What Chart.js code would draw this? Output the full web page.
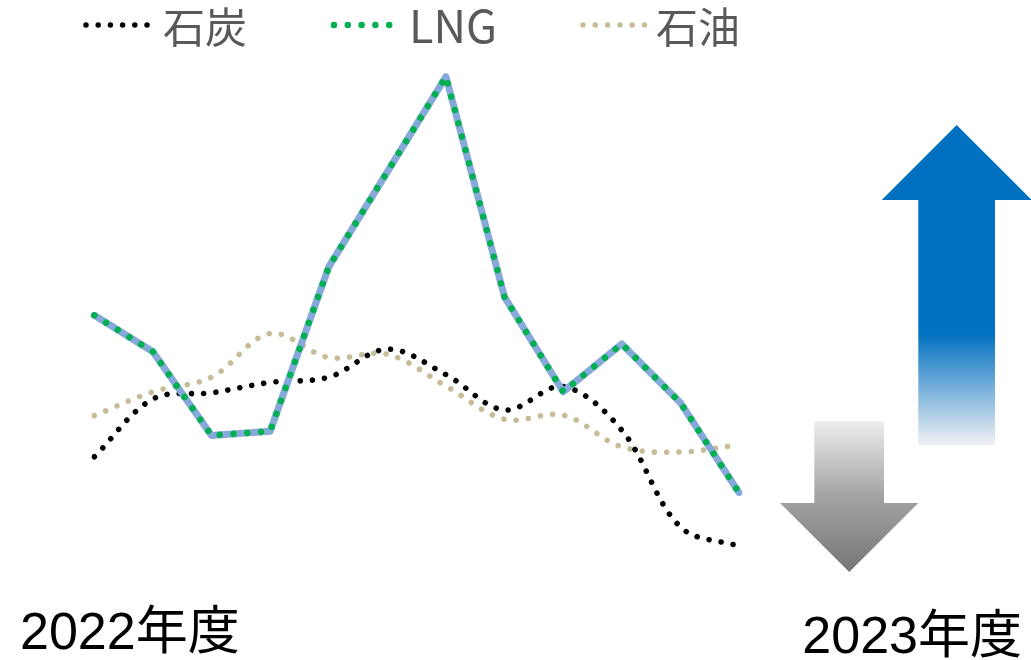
<!DOCTYPE html>
<html lang="ja">
<head>
<meta charset="utf-8">
<script src="https://cdn.jsdelivr.net/npm/chart.js@4.4.1/dist/chart.umd.min.js"></script>
<style>
  html, body { margin: 0; padding: 0; background: #fff; }
  #wrap { position: relative; width: 1031px; height: 660px; }
</style>
</head>
<body>
<div id="wrap"><canvas id="chart" width="1031" height="660"></canvas></div>
<script>
// 燃料価格の推移（指数）
const months = ['4月', '5月', '6月', '7月', '8月', '9月', '10月', '11月', '12月', '1月', '2月', '3月'];
const coal = [23.7, 34.8, 36.0, 38.0, 39.0, 44.4, 39.5, 32.7, 37.2, 28.8, 10.2, 6.5];
const lng  = [50.9, 43.9, 27.8, 28.6, 60.2, 78.5, 96.8, 54.4, 36.2, 45.4, 34.1, 16.8];
const oil  = [31.6, 36.2, 39.0, 47.4, 42.8, 43.4, 37.3, 30.9, 31.7, 25.6, 24.6, 26.0];
const seriesNames = ['石炭', 'LNG', '石油'];
const periodLabels = ['2022年度', '2023年度'];

// 凡例（点線サンプル＋ラベル）
const dotLegend = {
  id: 'dotLegend',
  afterDraw(chart) {
    const ctx = chart.ctx;
    const keys = chart.data.datasets.filter(ds => ds.inLegend);
    const startX = [86, 334, 583];
    const textX = [163, 409, 656];
    keys.forEach((ds, i) => {
      const gap = ds.borderDash[1];
      const n = Math.floor(62 / gap) + 1;
      ctx.save();
      ctx.strokeStyle = ds.borderColor;
      ctx.lineWidth = ds.legendDot;
      ctx.lineCap = 'round';
      ctx.setLineDash(ds.borderDash);
      ctx.beginPath();
      ctx.moveTo(startX[i], 25);
      ctx.lineTo(startX[i] + (n - 1) * gap + 0.01, 25);
      ctx.stroke();
      ctx.restore();

      ctx.save();
      const latin = /^[\x00-\x7F]+$/.test(ds.label);
      ctx.font = (latin ? 45 : 42) + 'px "Noto Sans CJK JP", sans-serif';
      ctx.fillStyle = '#595959';
      ctx.textBaseline = 'alphabetic';
      ctx.fillText(ds.label, textX[i], 42.5);
      ctx.restore();
    });
  }
};

// 右側の上下矢印と年度ラベル
const sideArrows = {
  id: 'sideArrows',
  afterDraw(chart) {
    const ctx = chart.ctx;

    // 上向き（青）
    ctx.save();
    let g = ctx.createLinearGradient(0, 125, 0, 445);
    g.addColorStop(0, '#0070C0');
    g.addColorStop(0.65, '#0070C0');
    g.addColorStop(1, '#F0F2F4');
    ctx.fillStyle = g;
    ctx.beginPath();
    ctx.moveTo(956.7, 125);
    ctx.lineTo(1031.7, 200);
    ctx.lineTo(995, 200);
    ctx.lineTo(995, 445);
    ctx.lineTo(918.3, 445);
    ctx.lineTo(918.3, 200);
    ctx.lineTo(881.7, 200);
    ctx.closePath();
    ctx.fill();
    ctx.restore();

    // 下向き（グレー）
    ctx.save();
    g = ctx.createLinearGradient(0, 421, 0, 572);
    g.addColorStop(0, '#EEEEEE');
    g.addColorStop(0.5, '#A3A3A3');
    g.addColorStop(1, '#767676');
    ctx.fillStyle = g;
    ctx.beginPath();
    ctx.moveTo(814.3, 421);
    ctx.lineTo(884, 421);
    ctx.lineTo(884, 503);
    ctx.lineTo(918.3, 503);
    ctx.lineTo(849.2, 572);
    ctx.lineTo(780, 503);
    ctx.lineTo(814.3, 503);
    ctx.closePath();
    ctx.fill();
    ctx.restore();

    ctx.save();
    ctx.font = '52px "Liberation Sans", "Noto Sans CJK JP", sans-serif';
    ctx.fillStyle = '#000';
    ctx.textBaseline = 'alphabetic';
    ctx.fillText(periodLabels[0], 20, 649);
    ctx.textAlign = 'right';
    ctx.fillText(periodLabels[1], 1022, 653);
    ctx.restore();
  }
};

new Chart(document.getElementById('chart'), {
  type: 'line',
  data: {
    labels: months,
    datasets: [
      {
        label: seriesNames[0],
        data: coal,
        inLegend: true,
        legendDot: 5.5,
        borderColor: '#000000',
        borderWidth: 5.6,
        borderDash: [0.001, 12.2],
        borderCapStyle: 'round',
        tension: 0.35,
        order: 2
      },
      {
        label: seriesNames[1],
        data: lng,
        inLegend: true,
        legendDot: 6.5,
        borderColor: '#00B050',
        borderWidth: 6.5,
        borderDash: [0.001, 13.8],
        borderCapStyle: 'round',
        tension: 0,
        order: 0
      },
      {
        label: '',
        data: lng,
        borderColor: '#85A9D8',
        borderWidth: 7,
        borderCapStyle: 'round',
        borderJoinStyle: 'round',
        tension: 0,
        order: 1
      },
      {
        label: seriesNames[2],
        data: oil,
        inLegend: true,
        legendDot: 5.5,
        borderColor: '#C6BD98',
        borderWidth: 5.6,
        borderDash: [0.001, 12.3],
        borderCapStyle: 'round',
        tension: 0.35,
        order: 3
      }
    ]
  },
  options: {
    responsive: false,
    animation: false,
    events: [],
    layout: { padding: { left: 94.3, right: 292, top: 60, bottom: 80 } },
    elements: { point: { radius: 0 } },
    scales: {
      x: { display: false, offset: false },
      y: { display: false, min: 0, max: 100 }
    },
    plugins: {
      legend: { display: false },
      tooltip: { enabled: false }
    }
  },
  plugins: [dotLegend, sideArrows]
});
</script>
</body>
</html>
